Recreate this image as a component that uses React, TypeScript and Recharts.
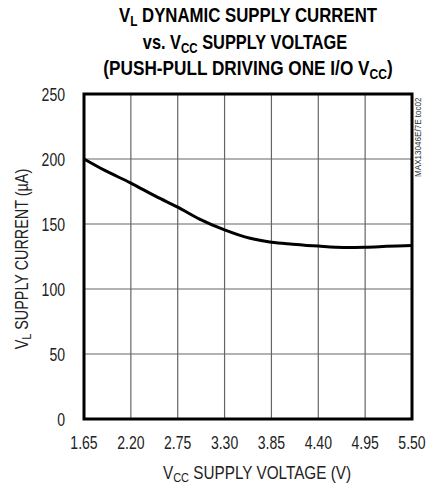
import type { ReactNode } from 'react'
import { CartesianGrid, Line, LineChart, ReferenceArea, XAxis, YAxis } from 'recharts'

const voltage = [1.65, 1.9, 2.2, 2.5, 2.75, 3.0, 3.3, 3.6, 3.85, 4.1, 4.4, 4.7, 4.95, 5.2, 5.5]
const current = [200, 191, 181.5, 171, 163, 154, 145.5, 139, 136, 134.5, 133, 132, 132.2, 132.8, 133.5]
const xTicks = [1.65, 2.2, 2.75, 3.3, 3.85, 4.4, 4.95, 5.5]
const yTicks = [0, 50, 100, 150, 200, 250]

const data = voltage.map((v, i) => ({ v, i: current[i] }))

const FONT = '"Liberation Sans", Arial, sans-serif'

// condensed text: Helvetica Narrow is not installed, so squeeze Liberation Sans
function Cond({
  x,
  y,
  s,
  rot = 0,
  anchor = 'middle',
  size,
  bold,
  fill = '#222',
  children,
}: {
  x: number
  y: number
  s: number
  rot?: number
  anchor?: 'start' | 'middle' | 'end'
  size: number
  bold?: boolean
  fill?: string
  children: ReactNode
}) {
  return (
    <text
      transform={`translate(${x} ${y}) rotate(${rot}) scale(${s} 1)`}
      textAnchor={anchor}
      fontSize={size}
      fontWeight={bold ? 'bold' : 'normal'}
      fontFamily={FONT}
      fill={fill}
    >
      {children}
    </text>
  )
}

const XTick = (p: any) => (
  <Cond x={p.x} y={p.y} s={0.78} size={18}>
    {Number(p.payload.value).toFixed(2)}
  </Cond>
)

const YTick = (p: any) => (
  <Cond x={p.x} y={p.y + 6.5} s={0.78} size={18} anchor="end">
    {p.payload.value}
  </Cond>
)

export default function App() {
  return (
    <div style={{ position: 'relative', width: 427, height: 485, background: '#fff' }}>
      <style>{'body{margin:0}'}</style>
      <LineChart width={427} height={485} data={data} margin={{ top: 94, right: 15, left: 24, bottom: 26 }}>
        <CartesianGrid stroke="#666" strokeWidth={1.2} />
        <XAxis
          dataKey="v"
          type="number"
          domain={[1.65, 5.5]}
          ticks={xTicks}
          tick={<XTick />}
          tickLine={false}
          tickSize={0}
          tickMargin={30}
          axisLine={false}
          height={40}
          interval={0}
        />
        <YAxis
          type="number"
          domain={[0, 250]}
          ticks={yTicks}
          tick={<YTick />}
          tickLine={false}
          tickSize={0}
          tickMargin={19}
          axisLine={false}
          width={60}
          interval={0}
        />
        <ReferenceArea x1={1.65} x2={5.5} y1={0} y2={250} fill="none" stroke="#000" strokeWidth={3} />
        <Line dataKey="i" type="monotone" stroke="#000" strokeWidth={3} dot={false} isAnimationActive={false} />
      </LineChart>
      <svg width={427} height={485} style={{ position: 'absolute', left: 0, top: 0, pointerEvents: 'none' }}>
        <Cond x={248} y={22} s={0.84} size={20} bold fill="#000">
          V<tspan fontSize={14} dy={4}>L</tspan>
          <tspan dy={-4}> DYNAMIC SUPPLY CURRENT</tspan>
        </Cond>
        <Cond x={245} y={48.5} s={0.82} size={20} bold fill="#000">
          vs. V<tspan fontSize={14} dy={4}>CC</tspan>
          <tspan dy={-4}> SUPPLY VOLTAGE</tspan>
        </Cond>
        <Cond x={248} y={75} s={0.86} size={20} bold fill="#000">
          (PUSH-PULL DRIVING ONE I/O V<tspan fontSize={14} dy={4}>CC</tspan>
          <tspan dy={-4}>)</tspan>
        </Cond>
        <Cond x={257} y={479} s={0.85} size={18}>
          V<tspan fontSize={13} dy={3}>CC</tspan>
          <tspan dy={-3}> SUPPLY VOLTAGE (V)</tspan>
        </Cond>
        <Cond x={28} y={259} s={0.8} size={18} rot={-90}>
          V<tspan fontSize={13} dy={3}>L</tspan>
          <tspan dy={-3}> SUPPLY CURRENT (µA)</tspan>
        </Cond>
        <Cond x={421} y={177} s={0.9} size={9} rot={-90} anchor="start" fill="#333">
          MAX13046E/7E toc02
        </Cond>
      </svg>
    </div>
  )
}
